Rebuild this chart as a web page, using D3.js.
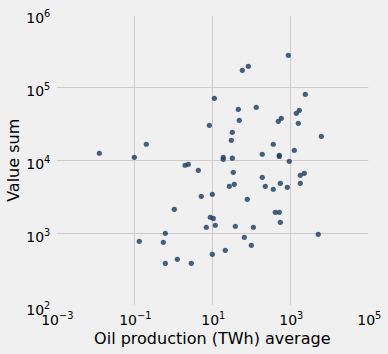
<!DOCTYPE html>
<html>
<head>
<meta charset="utf-8">
<script src="https://cdn.jsdelivr.net/npm/d3@7"></script>
<style>
	html, body { margin: 0; padding: 0; background: #f0f0f0; }
	svg { display: block; font-family: "DejaVu Sans", sans-serif; }
	.grid { stroke: #cbcbcb; stroke-width: 1; }
	.tick-label { font-size: 14px; fill: #000; }
	.axis-title { font-size: 16px; fill: #000; }
	.dot { fill: #1b3b60; fill-opacity: 0.8; }
</style>
</head>
<body>
<svg id="plot"></svg>
<script>
const WIDTH = 388;
const HEIGHT = 354;

// oil production (TWh) average per point
const oilAverage = [
	11.3, 8.4, 0.203, 0.0127, 0.1, 889, 58.8, 83.8, 2425, 46.4,
	134, 1702, 1425, 588, 492, 49.2, 1604, 32.6, 30.7, 6240,
	366, 1267, 191, 522, 522, 19.1, 19.1, 32.6, 942, 2.0,
	2.43, 4.38, 34.5, 191, 1804, 2286, 27.3, 36.6, 229, 555,
	366, 838, 1804, 5.22, 10, 78.9, 412, 522, 555, 1.06,
	8.89, 10.6, 7.02, 11.9, 38.9, 113, 66.2, 5220, 100, 21.5,
	10, 0.624, 0.134, 0.554, 1.27, 0.624, 2.9,
];
// value sum per point
const valueSum = [
	70700, 30100, 16600, 12500, 11000, 274000, 171000, 194000, 80200, 50000,
	53200, 48400, 44000, 37600, 34200, 35300, 32100, 24200, 18800, 21300,
	16600, 13700, 12100, 11700, 11300, 11000, 10300, 10700, 9690, 8550,
	8810, 7290, 6850, 5850, 6230, 6640, 4400, 4690, 4400, 4840,
	4010, 4270, 4840, 3210, 3420, 2920, 1940, 1940, 1415, 2130,
	1660, 1600, 1210, 1290, 1250, 1210, 882, 969, 685, 585,
	516, 1000, 777, 753, 440, 388, 388,
];

const xTickExps = [-3, -1, 1, 3, 5];
const yTickExps = [2, 3, 4, 5, 6];

const plot = d3.select("#plot").attr("width", WIDTH).attr("height", HEIGHT);

const margin = { left: 56.3, right: 19.7, top: 14.3, bottom: 47.7 };
const xScale = d3.scaleLog([1e-3, 1e5], [margin.left, WIDTH - margin.right]);
const yScale = d3.scaleLog([1e2, 1e6], [HEIGHT - margin.bottom, margin.top]);

// gridlines, only the inner ones are visible in the original
const gridG = plot.append("g");
gridG.selectAll(".grid-x")
	.data(xTickExps.slice(1, -1))
	.join("line")
	.attr("class", "grid")
	.attr("x1", e => Math.round(xScale(10 ** e)) + 0.5)
	.attr("x2", e => Math.round(xScale(10 ** e)) + 0.5)
	.attr("y1", yScale.range()[1] + 1.5)
	.attr("y2", yScale.range()[0] - 1.5);
gridG.selectAll(".grid-y")
	.data(yTickExps.slice(1, -1))
	.join("line")
	.attr("class", "grid")
	.attr("y1", e => Math.round(yScale(10 ** e)) + 0.5)
	.attr("y2", e => Math.round(yScale(10 ** e)) + 0.5)
	.attr("x1", xScale.range()[0] + 0.5)
	.attr("x2", xScale.range()[1]);

function powerLabel(sel, exp) {
	sel.append("tspan").text("10");
	sel.append("tspan")
		.attr("dy", -6)
		.attr("font-size", 9.8)
		.text(exp < 0 ? "\u2212" + Math.abs(exp) : String(exp));
}

plot.append("g")
	.selectAll("text")
	.data(xTickExps)
	.join("text")
	.attr("class", "tick-label")
	.attr("text-anchor", "middle")
	.attr("x", e => xScale(10 ** e) + 1)
	.attr("y", 325)
	.each(function (e) { powerLabel(d3.select(this), e); });

plot.append("g")
	.selectAll("text")
	.data(yTickExps)
	.join("text")
	.attr("class", "tick-label")
	.attr("text-anchor", "end")
	.attr("x", margin.left - 6)
	.attr("y", e => yScale(10 ** e) + 9)
	.each(function (e) { powerLabel(d3.select(this), e); });

plot.append("text")
	.attr("class", "axis-title")
	.attr("text-anchor", "middle")
	.attr("x", (xScale.range()[0] + xScale.range()[1]) / 2)
	.attr("y", 344)
	.text("Oil production (TWh) average");

plot.append("text")
	.attr("class", "axis-title")
	.attr("text-anchor", "middle")
	.attr("transform", `translate(19,${(yScale.range()[0] + yScale.range()[1]) / 2}) rotate(-90)`)
	.text("Value sum");

const points = oilAverage.map((x, i) => [x, valueSum[i]]);
plot.append("g")
	.selectAll("circle")
	.data(points)
	.join("circle")
	.attr("class", "dot")
	.attr("cx", d => xScale(d[0]))
	.attr("cy", d => yScale(d[1]))
	.attr("r", 2.6);
</script>
</body>
</html>
